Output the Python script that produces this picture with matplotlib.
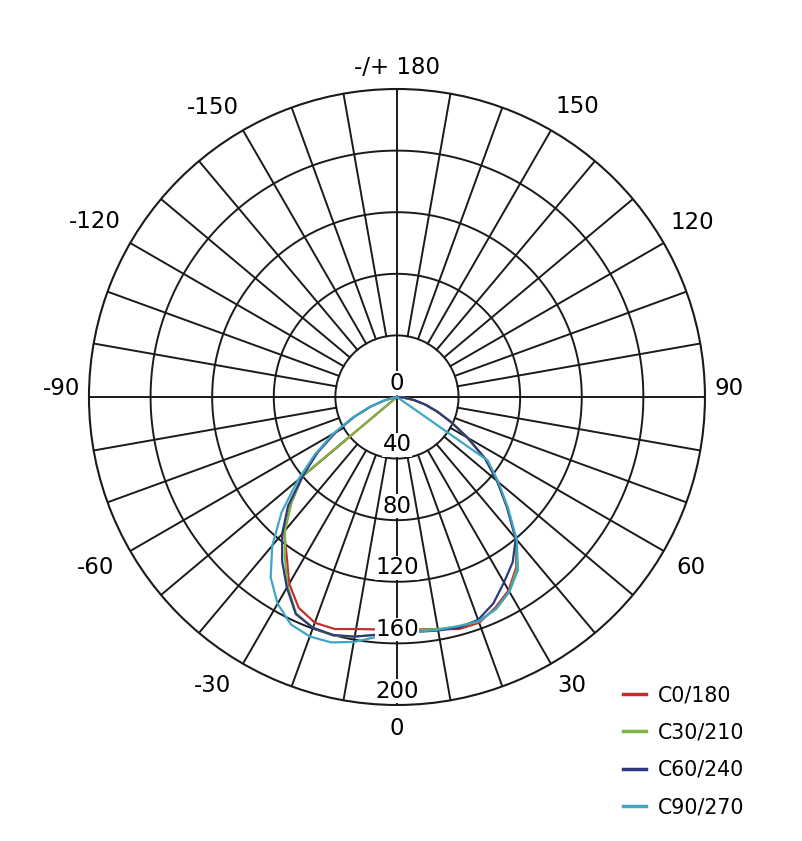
"""
plot.py
───────
Polar luminous intensity diagram (cd/klm) for four C-planes.
0 deg points down, 180 deg up, rings every 40 up to 200.
"""

import numpy as np
import matplotlib
matplotlib.use("Agg")
import matplotlib.pyplot as plt

plt.rcParams["font.family"] = ["DejaVu Sans"]

# ── Data ──────────────────────────────────────────────────────────────────────

GAMMA = list(range(-90, 95, 5))

C0_180 = [0, 0, 0, 0, 0, 0, 0, 0, 80, 97, 114, 125, 140, 151, 156, 156, 153, 151.5,
          150.5,
          151.5, 153, 156, 156, 151, 145, 135, 120, 101, 85, 70, 53, 39, 28, 19, 11, 4, 0]
C30_210 = [0, 0, 0, 0, 0, 0, 0, 0, 80, 97, 113, 127, 142, 155, 159.5, 160.5, 158, 155,
           152,
           152, 153, 154.5, 155, 152, 146, 136, 120, 101, 85, 70, 53, 39, 28, 19, 11, 4, 0]
C60_240 = [0, 0, 2, 8, 18, 31, 46, 63, 80, 100, 116, 130, 143, 155.5, 159.5, 160, 158, 155,
           152,
           153, 154, 155, 154, 148, 139, 131, 120, 101, 85, 70, 53, 39, 28, 19, 11, 4, 0]
C90_270 = [0, 0, 2, 9, 19, 32, 48, 65, 84, 106, 126, 143, 155, 163, 165.5, 165, 161.5, 156.5,
           153,
           153, 153.5, 154, 155, 152, 146, 137, 121, 102, 86, 72, 0, 0, 0, 0, 0, 0, 0]

SERIES = ["C0/180", "C30/210", "C60/240", "C90/270"]
COLORS = ["#c0302e", "#7db443", "#2d3a7e", "#3ea6c2"]

RINGS = [40, 80, 120, 160, 200]
RING_LABELS = ["0", "40", "80", "120", "160", "200"]
ANGLE_TICKS = [0, 30, 60, 90, 120, 150, 180, -150, -120, -90, -60, -30]
ANGLE_LABELS = ["0", "30", "60", "90", "120", "150", "-/+ 180",
                "-150", "-120", "-90", "-60", "-30"]


# ── Plot ──────────────────────────────────────────────────────────────────────

def main():
    fig = plt.figure(figsize=(8.03, 8.41), dpi=100)
    ax = fig.add_axes([0.1108, 0.1617, 0.7671, 0.7325], projection="polar")
    ax.set_theta_zero_location("S")
    ax.set_theta_direction(1)
    ax.set_ylim(0, 200)
    ax.grid(False)
    ax.set_xticks([])
    ax.set_yticks([])
    ax.spines["polar"].set_color("#1a1a1a")
    ax.spines["polar"].set_linewidth(1.5)

    grid_kw = dict(color="#1a1a1a", lw=1.4, zorder=1)

    # rings
    th = np.linspace(0, 2 * np.pi, 721)
    for r in RINGS[:-1]:
        ax.plot(th, np.full_like(th, r), **grid_kw)

    # spokes every 10 deg, starting at the inner ring; axes go through centre
    for a in range(0, 360, 10):
        r0 = 0 if a % 90 == 0 else RINGS[0]
        ax.plot([np.deg2rad(a)] * 2, [r0, 200], **grid_kw)

    # curves
    g = np.deg2rad(GAMMA)
    for vals, name, col in zip([C0_180, C30_210, C60_240, C90_270], SERIES, COLORS):
        ax.plot(g, vals, color=col, lw=1.6, label=name, zorder=3)

    # ring labels along the 0 axis
    box = dict(facecolor="white", edgecolor="none", pad=0.3)
    ax.text(np.pi, 9, RING_LABELS[0], ha="center", va="center",
            fontsize=16.5, bbox=box, zorder=5)
    for r, lab in zip(RINGS, RING_LABELS[1:]):
        ax.text(0, r - 9, lab, ha="center", va="center",
                fontsize=16.5, bbox=box, zorder=5)

    # angle labels round the outside (angle, radius) where they sit
    label_pos = {0: (0, 215), 30: (31.3, 219), 60: (59.9, 221), 90: (91.4, 216),
                 120: (120.6, 223), 150: (148.2, 222), 180: (180, 214),
                 -150: (-147.6, 223), -120: (-120.1, 227), -90: (-91.4, 218),
                 -60: (-60.5, 225), -30: (-32.6, 222)}
    for a, lab in zip(ANGLE_TICKS, ANGLE_LABELS):
        pa, pr = label_pos[a]
        ax.text(np.deg2rad(pa), pr, lab, ha="center", va="center", fontsize=16.5)

    ax.legend(loc="upper left", bbox_to_anchor=(0.776, 0.185),
              bbox_transform=fig.transFigure, frameon=False, fontsize=14.8,
              handlelength=1.12, handletextpad=0.58, labelspacing=0.84,
              borderpad=0, borderaxespad=0)
    for line in ax.get_legend().get_lines():
        line.set_linewidth(2.5)

    fig.savefig("out.png", dpi=100, facecolor="white")
    plt.close(fig)


if __name__ == "__main__":
    main()
